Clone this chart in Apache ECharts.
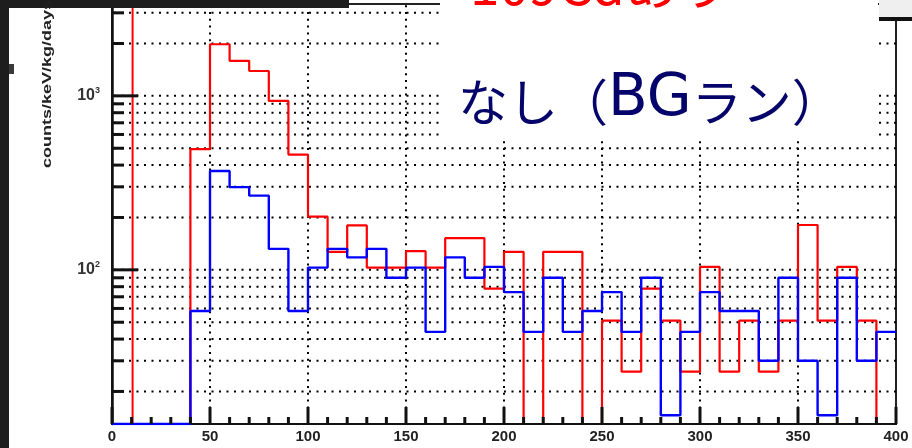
<!DOCTYPE html>
<html><head><meta charset="utf-8">
<script src="https://cdn.jsdelivr.net/npm/echarts@6/dist/echarts.min.js"></script>
<style>html,body{margin:0;padding:0;background:#fff}#c{width:912px;height:448px}</style>
</head><body><div id="c"></div>
<script>
// ---- data ----
const binStart = 0;
const binWidth = 10;
const redValues = [0, 0, 0, 0, 494, 1980, 1590, 1390, 935, 460,
  202, 127, 180, 103, 103, 128, 103, 152, 152, 78,
  127, 0, 127, 127, 0, 51, 26, 78, 51, 26,
  104, 26, 51, 26, 51, 181, 51, 104, 51, 0];
const blueValues = [0, 0, 0, 0, 58, 370, 299, 267, 132, 58,
  103, 132, 118, 132, 90, 103, 44, 118, 90, 104,
  74.5, 44, 90, 44, 58, 74.5, 44, 90, 14.6, 44,
  74.5, 58, 58, 30, 90, 30, 14.6, 90, 30, 44];
const thresholdX = 10.5;
const xMin = 0, xMax = 400, xStep = 50;
const xTickLabels = [0, 50, 100, 150, 200, 250, 300, 350, 400];
const xGridValues = [50, 100, 150, 200, 250, 300, 350];
const yMin = 13, yMax = 3373;
const yLabelValues = [100, 1000];
const yMinorValues = [20, 30, 40, 50, 60, 70, 80, 90, 200, 300, 400, 500, 600, 700, 800, 900, 2000, 3000];
const redTitle = '109Cdあり';
const blueTitleParts = ['なし（', 'BG', 'ラン）'];
const yAxisTitle = 'counts/keV/kg/days';

// ---- build ----
function stepData(vals) {
  const pts = vals.map((v, i) => [binStart + i * binWidth, v > 0 ? v : yMin]);
  pts.push([binStart + vals.length * binWidth, pts[pts.length - 1][1]]);
  return pts;
}
const yGridValues = yMinorValues.concat(yLabelValues);
const isMajorY = v => yLabelValues.some(t => Math.abs(t - v) / t < 1e-6);
const xMinorTicks = [];
for (let i = 0; i <= redValues.length; i++) xMinorTicks.push(binStart + i * binWidth);
const isMajorX = x => xTickLabels.indexOf(x) >= 0;

const chart = echarts.init(document.getElementById('c'), null, {renderer: 'canvas'});
chart.setOption({
  animation: false,
  backgroundColor: '#ffffff',
  grid: {left: 112, right: 16, top: 4, bottom: 24, show: true, borderColor: '#222', borderWidth: 2, backgroundColor: 'transparent'},
  xAxis: {
    type: 'value', min: xMin, max: xMax, interval: xStep, z: 3,
    axisLine: {onZero: false, lineStyle: {color: '#111', width: 2}},
    axisTick: {show: false},
    splitLine: {show: false},
    axisLabel: {color: '#222', fontSize: 15, fontWeight: 'bold', fontFamily: 'Liberation Sans', margin: 5}
  },
  yAxis: {
    type: 'log', logBase: 10, min: yMin, max: yMax, z: 3,
    axisLine: {show: true, lineStyle: {color: '#111', width: 2.5}},
    axisTick: {show: false},
    splitLine: {show: false},
    axisLabel: {
      margin: 12,
      formatter: v => isMajorY(v) ? '{b|10}{s|' + Math.round(Math.log10(v)) + '}' : '',
      rich: {
        b: {fontSize: 16, fontWeight: 'bold', color: '#333', fontFamily: 'Liberation Sans'},
        s: {fontSize: 9, fontWeight: 'bold', color: '#333', fontFamily: 'Liberation Sans', verticalAlign: 'top', padding: [0, 0, 10, 0]}
      }
    }
  },
  series: [
    {
      type: 'custom', name: 'ygrid', z: 1, clip: false,
      data: yGridValues.map(v => [xMin, v]),
      encode: {x: 0, y: 1},
      renderItem: (params, api) => {
        const v = api.value(1);
        const a = api.coord([xMin, v]);
        const b = api.coord([xMax, v]);
        return {type: 'line', shape: {x1: a[0] + 2, y1: a[1], x2: b[0], y2: b[1]}, style: {stroke: '#000', fill: null, lineWidth: 2, lineDash: [2, 5.5]}};
      }
    },
    {
      type: 'custom', name: 'xgrid', z: 1, clip: false,
      data: xGridValues.map(x => [x, yMin]),
      encode: {x: 0, y: 1},
      renderItem: (params, api) => {
        const x = api.value(0);
        const a = api.coord([x, yMin]);
        const b = api.coord([x, yMax]);
        return {type: 'line', shape: {x1: a[0], y1: a[1] - 2, x2: b[0], y2: b[1]}, style: {stroke: '#000', fill: null, lineWidth: 2, lineDash: [2, 4.8]}};
      }
    },
    {
      type: 'custom', name: 'yticks', z: 5, clip: false,
      data: yGridValues.map(v => [xMin, v]),
      encode: {x: 0, y: 1},
      renderItem: (params, api) => {
        const v = api.value(1);
        const a = api.coord([xMin, v]);
        const len = isMajorY(v) ? 26 : 12;
        return {type: 'rect', shape: {x: a[0], y: a[1] - 1.5, width: len, height: 3}, style: {fill: '#111'}};
      }
    },
    {
      type: 'custom', name: 'xticks', z: 5, clip: false,
      data: xMinorTicks.map(x => [x, yMin]),
      encode: {x: 0, y: 1},
      renderItem: (params, api) => {
        const x = api.value(0);
        const a = api.coord([x, yMin]);
        const len = isMajorX(x) ? 17 : 7;
        return {type: 'rect', shape: {x: a[0] - 1.5, y: a[1] - len, width: 3, height: len}, style: {fill: '#111'}};
      }
    },
    {
      type: 'line', name: 'threshold', z: 2, symbol: 'none',
      data: [[thresholdX, yMin], [thresholdX, yMax]],
      lineStyle: {color: '#ff0000', width: 2}
    },
    {
      type: 'line', name: 'red', z: 2, step: 'end', symbol: 'none',
      data: stepData(redValues),
      lineStyle: {color: '#ff0000', width: 2.2}
    },
    {
      type: 'line', name: 'blue', z: 4, step: 'end', symbol: 'none',
      data: stepData(blueValues),
      lineStyle: {color: '#0000ff', width: 2.4}
    }
  ],
  graphic: [
    {type: 'rect', z: 100, shape: {x: 0, y: 0, width: 9, height: 448}, style: {fill: '#1d1d1d'}},
    {type: 'rect', z: 100, shape: {x: 0, y: 0, width: 349, height: 8}, style: {fill: '#1d1d1d'}},
    {type: 'rect', z: 100, shape: {x: 9, y: 64, width: 5, height: 10}, style: {fill: '#3a3a3a'}},
    {type: 'rect', z: 100, shape: {x: 440, y: 0, width: 438, height: 140}, style: {fill: '#ffffff'}},
    {type: 'rect', z: 100, shape: {x: 879, y: 0, width: 33, height: 17}, style: {fill: '#efefef'}},
    {type: 'rect', z: 100, shape: {x: 879, y: 17, width: 33, height: 4}, style: {fill: '#111111'}},
    {type: 'text', z: 101, x: 470, y: -15, style: {text: redTitle, fill: '#ff0000', font: '53px "Noto Sans CJK JP"', align: 'left', verticalAlign: 'middle'}},
    {type: 'text', z: 101, x: 458, y: 102, style: {
      text: '{a|' + blueTitleParts[0] + '}{b|' + blueTitleParts[1] + '}{a|' + blueTitleParts[2] + '}',
      align: 'left', verticalAlign: 'middle',
      rich: {
        a: {fill: '#04046a', fontSize: 50, fontFamily: 'Noto Sans CJK JP'},
        b: {fill: '#04046a', fontSize: 58, fontFamily: 'DejaVu Sans', padding: [0, 0, 4, 0]}
      }
    }},
    {type: 'text', z: 101, x: 48, y: 168, rotation: Math.PI / 2, scaleX: 1.5, style: {text: yAxisTitle, fill: '#222', font: 'bold 12px "Liberation Sans"', align: 'left', verticalAlign: 'middle'}}
  ]
});
</script></body></html>
